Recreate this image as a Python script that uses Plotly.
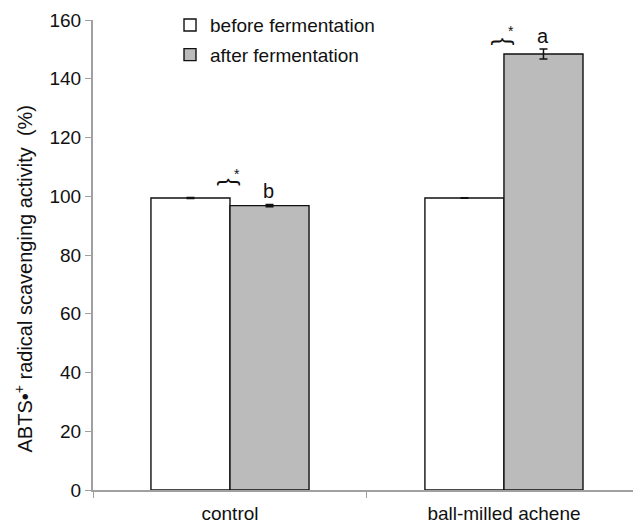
import plotly.graph_objects as go

categories = ["control", "ball-milled achene"]
before_vals = [99.4, 99.4]
before_err = [0.2, 0.1]
after_vals = [96.8, 148.4]
after_err = [0.4, 1.7]
letters = ["b", "a"]
y_ticks = [0, 20, 40, 60, 80, 100, 120, 140, 160]
y_title = "ABTS•<sup>+</sup> radical scavenging activity  (%)"

FONT = "Liberation Sans, Arial, sans-serif"
GREY = "#a0a0a0"

fig = go.Figure()
fig.add_trace(go.Bar(
    x=categories, y=before_vals, name="before fermentation",
    marker=dict(color="white", line=dict(color="#111111", width=1.4)),
    error_y=dict(type="data", array=before_err, color="#111111", thickness=1.5, width=4),
    legend="legend", showlegend=True,
))
fig.add_trace(go.Bar(
    x=categories, y=after_vals, name="after fermentation",
    marker=dict(color="#bbbbbb", line=dict(color="#111111", width=1.4)),
    error_y=dict(type="data", array=after_err, color="#111111", thickness=1.5, width=4),
    legend="legend2", showlegend=True,
))

annotations = []
for i, (v, e, L) in enumerate(zip(after_vals, after_err, letters)):
    annotations.append(dict(x=i + 0.142, y=v + e + 4.5, text=L, showarrow=False,
                            xref="x", yref="y", font=dict(size=20, color="#111111", family=FONT)))
    top = (v + e) if i == 1 else before_vals[i]
    annotations.append(dict(x=i + 0.0, y=top + (2.5 if i == 1 else 5.4),
                            text="{", textangle=90, showarrow=False, xref="x", yref="y",
                            font=dict(size=23, color="#111111", family=FONT)))
    annotations.append(dict(x=i + 0.025, y=top + (6.0 if i == 1 else 8.3),
                            text="*", showarrow=False, xref="x", yref="y",
                            font=dict(size=14, color="#111111", family=FONT)))

annotations.append(dict(x=-0.1296, y=0.45, xref="paper", yref="paper", text=y_title,
                        textangle=-90, showarrow=False, xanchor="center", yanchor="middle",
                        font=dict(size=20, color="#111111", family=FONT)))

fig.update_layout(
    width=633, height=524,
    margin=dict(l=93, r=0, t=20, b=31),
    paper_bgcolor="white", plot_bgcolor="white",
    barmode="group", bargap=0.423, bargroupgap=0,
    font=dict(family=FONT, size=19, color="#111111"),
    showlegend=True,
    xaxis=dict(range=[-0.5, 1.471], showline=True, linecolor=GREY, linewidth=2,
               ticks="outside", tickson="boundaries", ticklen=6, tickcolor=GREY,
               tickfont=dict(size=19), showgrid=False, ticklabelstandoff=5),
    yaxis=dict(range=[0, 160], tickvals=y_ticks, showline=True, linecolor=GREY, linewidth=2,
               ticks="outside", ticklen=6, tickcolor=GREY, showgrid=False, zeroline=False),
    legend=dict(x=0.1426, y=0.989, xanchor="left", yanchor="middle", bgcolor="rgba(0,0,0,0)",
                font=dict(size=19), itemwidth=30, visible=True),
    legend2=dict(x=0.1426, y=0.926, xanchor="left", yanchor="middle", bgcolor="rgba(0,0,0,0)",
                 font=dict(size=19), itemwidth=30, visible=True),
    annotations=annotations,
)

fig.write_html("out.html")
